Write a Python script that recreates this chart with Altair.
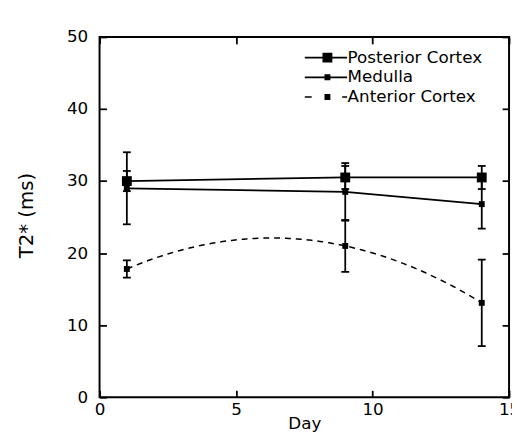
import altair as alt
import pandas as pd

# ---- data ----
series_names = ["Posterior Cortex", "Medulla", "Anterior Cortex"]
days = [1, 9, 14]
posterior = [30.0, 30.5, 30.5]
posterior_err = [1.4, 1.6, 1.6]
medulla = [29.0, 28.5, 26.8]
medulla_err = [5.0, 4.0, 3.4]
anterior = [17.8, 21.0, 13.1]
anterior_err = [1.2, 3.6, 6.0]

x_ticks = [0, 5, 10, 15]
y_ticks = [0, 10, 20, 30, 40, 50]

rows = []
for name, vals, errs in [
    (series_names[0], posterior, posterior_err),
    (series_names[1], medulla, medulla_err),
    (series_names[2], anterior, anterior_err),
]:
    for d, v, e in zip(days, vals, errs):
        rows.append({"series": name, "day": d, "value": v, "lo": v - e, "hi": v + e})
df = pd.DataFrame(rows)

W, H = 416, 366
FONT = "DejaVu Sans"

xs = alt.Scale(domain=[0, 15], nice=False, zero=False)
ys = alt.Scale(domain=[0, 50], nice=False, zero=False)

def tick_axis(orient, offset):
    return alt.Axis(orient=orient, offset=offset, labels=False, domain=False, grid=False,
                    ticks=True, tickSize=7, tickWidth=1.8, tickColor="black",
                    values=x_ticks if orient in ("top", "bottom") else y_ticks, title=None)

base = alt.Chart(df)

solid = base.transform_filter(
    alt.datum.series != "Anterior Cortex"
).mark_line(color="black", strokeWidth=1.8).encode(
    x=alt.X("day:Q", scale=xs, axis=alt.Axis(
        orient="bottom", values=x_ticks, ticks=False, tickSize=0, domain=False, grid=False,
        labelPadding=5, labelFlush=False, labelFont=FONT, labelFontSize=17, labelColor="black",
        title="Day", titleFont=FONT, titleFontSize=17, titleFontWeight="normal", titleColor="black",
        titleY=27, titleBaseline="middle")),
    y=alt.Y("value:Q", scale=ys, axis=alt.Axis(
        orient="left", values=y_ticks, ticks=False, tickSize=0, domain=False, grid=False,
        labelPadding=12, labelFont=FONT, labelFontSize=17, labelColor="black",
        title="T2* (ms)", titleFont=FONT, titleFontSize=20, titleFontWeight="normal", titleColor="black",
        titleX=-74, titleY=181, titleBaseline="middle", titleAngle=270)),
    detail="series:N",
)

# smooth dashed curve through the three anterior points (library regression, order 2)
dashed = base.transform_filter(
    alt.datum.series == "Anterior Cortex"
).transform_regression("day", "value", method="poly", order=2).mark_line(
    color="black", strokeWidth=1.5, strokeDash=[6, 5]
).encode(
    x=alt.X("day:Q", scale=xs, axis=tick_axis("top", -H)),
    y=alt.Y("value:Q", scale=ys, axis=tick_axis("right", -W)),
)

err = base.mark_rule(color="black", strokeWidth=1.8).encode(
    x=alt.X("day:Q", scale=xs, axis=tick_axis("bottom", -H)),
    y=alt.Y("lo:Q", scale=ys, axis=tick_axis("left", -W)),
    y2="hi:Q",
)

caps = base.transform_fold(["lo", "hi"], as_=["end", "v"]).mark_tick(
    color="black", orient="horizontal", size=8, thickness=1.8, opacity=1
).encode(
    x=alt.X("day:Q", scale=xs, axis=None),
    y=alt.Y("v:Q", scale=ys, axis=None),
)

big_points = base.transform_filter(
    alt.datum.series == "Posterior Cortex"
).mark_square(filled=True, color="black", opacity=1, size=100).encode(
    x=alt.X("day:Q", scale=xs, axis=None),
    y=alt.Y("value:Q", scale=ys, axis=None),
)

small_points = base.transform_filter(
    alt.datum.series != "Posterior Cortex"
).mark_square(filled=True, color="black", opacity=1, size=36).encode(
    x=alt.X("day:Q", scale=xs, axis=None),
    y=alt.Y("value:Q", scale=ys, axis=None),
)

# legend key glyphs (all filled shapes): line + square marker, dashed for anterior cortex
legend_paths = [
    "M-3.15,-0.09H1.15V0.09H-3.15ZM-1.35,-0.5H-0.35V0.5H-1.35Z",
    "M-3.15,-0.09H1.15V0.09H-3.15ZM-1.15,-0.3H-0.55V0.3H-1.15Z",
    "M-3.15,-0.08H-2.45V0.08H-3.15ZM-1.15,-0.3H-0.55V0.3H-1.15ZM0.65,-0.08H1.15V0.08H0.65Z",
]

legend_layer = base.mark_point(
    filled=True, color="black", opacity=0
).encode(
    x=alt.X("day:Q", scale=xs, axis=None),
    y=alt.Y("value:Q", scale=ys, axis=None),
    shape=alt.Shape("series:N", scale=alt.Scale(domain=series_names, range=legend_paths),
                    legend=alt.Legend(
                        title=None, orient="none", legendX=230, legendY=11,
                        symbolSize=400, symbolOpacity=1, symbolFillColor="black",
                        symbolStrokeWidth=0,
                        labelFont=FONT, labelFontSize=17,
                        labelColor="black", labelOffset=2, labelLimit=300, rowPadding=2,
                        padding=0)),
)

chart = alt.layer(solid, dashed, err, caps, big_points, small_points, legend_layer).resolve_axis(
    x="independent", y="independent"
).properties(
    width=W, height=H,
    autosize=alt.AutoSizeParams(type="none"),
    padding={"left": 93, "top": 26, "right": 3, "bottom": 39},
    background="white",
).configure_view(stroke="black", strokeWidth=2)

chart.save("out.html", embed_options={"renderer": "svg", "actions": False})
